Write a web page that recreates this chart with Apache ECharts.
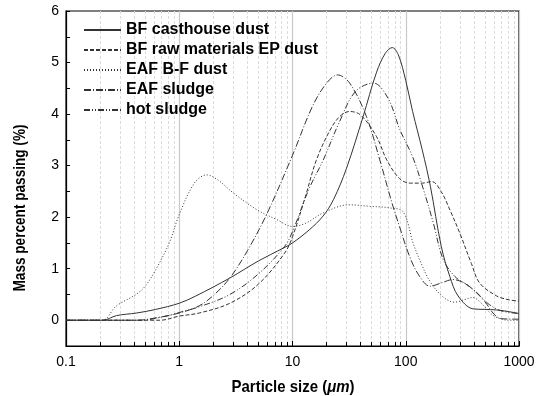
<!DOCTYPE html>
<html>
<head>
<meta charset="utf-8">
<script src="https://cdn.jsdelivr.net/npm/echarts@6/dist/echarts.min.js"></script>
<style>
  html, body {margin: 0; padding: 0; background: #fff;}
  #chart {width: 540px; height: 396px;}
</style>
</head>
<body>
<div id="chart"></div>
<script>
// [particle size (um), mass percent passing (%)]
const bfCasthouse = [
  [0.1, 0], [0.21, 0], [0.28, 0.09], [0.42, 0.14], [0.62, 0.21], [1, 0.33], [1.4, 0.47],
  [2.8, 0.82], [5, 1.15], [8.3, 1.4], [10, 1.5], [14, 1.75], [18.6, 2.02], [23, 2.34],
  [30, 2.95], [42, 3.95], [55, 4.8], [66, 5.18], [76, 5.29], [86, 5.15], [100, 4.65],
  [115, 4.05], [140, 3.3], [165, 2.6], [206, 1.43], [245, 0.85], [290, 0.47], [394, 0.22],
  [500, 0.21], [630, 0.2], [800, 0.17], [1000, 0.13]
];
const bfRawMaterials = [
  [0.1, 0], [0.68, 0], [1, 0.08], [1.5, 0.14], [2.8, 0.33], [5, 0.7], [8.5, 1.3],
  [10, 1.62], [13, 2.4], [16.2, 3.1], [21, 3.65], [26, 3.95], [32, 4.05], [40, 3.98],
  [55, 3.57], [68, 3.11], [88, 2.75], [110, 2.66], [140, 2.66], [170, 2.69], [205, 2.5],
  [250, 2.1], [300, 1.69], [380, 1.1], [450, 0.72], [636, 0.47], [800, 0.4], [1000, 0.37]
];
const eafBF = [
  [0.1, 0], [0.21, 0], [0.276, 0.27], [0.415, 0.5], [0.5, 0.66], [0.62, 0.98], [0.816, 1.5],
  [1, 2.05], [1.36, 2.66], [1.75, 2.82], [2.2, 2.72], [3, 2.47], [4.8, 2.15], [7.3, 1.95],
  [10, 1.82], [13, 1.88], [18.6, 2.08], [31.5, 2.24], [48, 2.21], [72, 2.18], [95, 2.1],
  [116, 1.5], [134, 1.15], [164, 0.75], [214, 0.45], [270, 0.35], [330, 0.4], [390, 0.44],
  [470, 0.32], [570, 0.12], [700, 0.02], [850, 0], [1000, 0]
];
const eafSludge = [
  [0.1, 0], [0.43, 0], [0.6, 0.04], [1, 0.14], [1.5, 0.28], [2, 0.48], [2.8, 0.82],
  [4, 1.35], [5.9, 2.05], [10, 3.2], [15, 4.15], [20, 4.6], [25, 4.76], [32, 4.6],
  [45, 3.95], [59, 3.11], [75, 2.3], [88, 1.82], [108, 1.24], [130, 0.88], [164, 0.66],
  [210, 0.73], [260, 0.79], [330, 0.72], [400, 0.58], [500, 0.36], [600, 0.12],
  [700, 0.03], [1000, 0.02]
];
const hotSludge = [
  [0.1, 0], [0.45, 0], [0.7, 0.06], [1, 0.15], [1.5, 0.26], [2.8, 0.5], [5, 0.9],
  [8.5, 1.43], [10, 1.72], [14, 2.55], [18.6, 3.1], [26, 3.85], [36, 4.44], [52, 4.6],
  [70, 4.3], [88.6, 3.7], [116, 3.15], [145, 2.5], [175, 1.89], [214, 1.18], [271, 0.85],
  [330, 0.72], [394, 0.6], [470, 0.44], [550, 0.3], [700, 0.18], [1000, 0.13]
];

const seriesNames = ['BF casthouse dust', 'BF raw materials EP dust', 'EAF B-F dust', 'EAF sludge', 'hot sludge'];
const seriesData = [bfCasthouse, bfRawMaterials, eafBF, eafSludge, hotSludge];
const dashTypes = ['solid', [4, 2], [1, 2], [7, 2, 1, 2], [6, 2, 1, 2, 1, 2]];

const font = '"Liberation Sans", Arial, sans-serif';
const chart = echarts.init(document.getElementById('chart'));

chart.setOption({
  animation: false,
  grid: {left: 66, right: 21, top: 11, bottom: 50, show: true, borderColor: '#000', borderWidth: 1.2},
  legend: {
    orient: 'vertical',
    left: 78,
    top: 17,
    itemWidth: 37,
    itemHeight: 14,
    itemGap: 4,
    itemStyle: {opacity: 0},
    textStyle: {fontFamily: font, fontSize: 16, fontWeight: 'bold', color: '#000'},
    data: seriesNames
  },
  graphic: [{
    type: 'text',
    x: 20,
    y: 208,
    rotation: Math.PI / 2,
    scaleX: 0.8,
    style: {
      text: 'Mass percent passing (%)', font: 'bold 17px ' + font, fill: '#000',
      align: 'center', verticalAlign: 'middle'
    }
  }, {
    type: 'text',
    x: 293,
    y: 387,
    scaleX: 0.88,
    style: {
      text: '{n|Particle size (}{i|\u03bcm}{n|)}', fill: '#000',
      align: 'center', verticalAlign: 'middle',
      rich: {
        n: {font: 'bold 17px ' + font},
        i: {font: 'italic bold 17px ' + font}
      }
    }
  }],
  xAxis: {
    type: 'log',
    min: 0.1,
    max: 1000,
    logBase: 10,
    axisLine: {onZero: false, lineStyle: {color: '#000', width: 1.2}},
    axisTick: {inside: true, length: 5, lineStyle: {color: '#000'}},
    minorTick: {show: true, splitNumber: 9, length: 4, lineStyle: {color: '#000'}},
    axisLabel: {fontFamily: font, fontSize: 14, color: '#000', margin: 9, formatter: v => String(v)},
    splitLine: {show: true, lineStyle: {color: '#c8c8c8', width: 1.2}},
    minorSplitLine: {show: true, lineStyle: {color: '#dcdcdc', type: [3, 2], width: 1}}
  },
  yAxis: {
    type: 'value',
    min: -0.5,
    max: 6,
    interval: 0.5,
    axisLine: {show: true, onZero: false, lineStyle: {color: '#000', width: 1.2}},
    axisTick: {inside: true, length: 4, lineStyle: {color: '#000'}},
    axisLabel: {
      fontFamily: font, fontSize: 14, color: '#000', margin: 7,
      formatter: v => (Math.abs(v - Math.round(v)) < 1e-6 ? String(Math.round(v)) : '')
    },
    splitLine: {show: false}
  },
  series: seriesData.map((d, i) => ({
    name: seriesNames[i],
    type: 'line',
    data: d,
    smooth: 0.35,
    symbol: 'none',
    lineStyle: {color: '#333', width: 1, type: dashTypes[i]},
    itemStyle: {color: '#333'}
  }))
});
</script>
</body>
</html>
